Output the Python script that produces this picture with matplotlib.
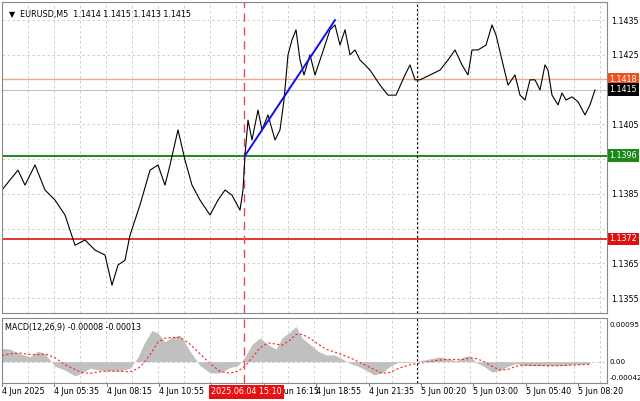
import matplotlib
matplotlib.use("Agg")
import matplotlib.pyplot as plt

# ---- data ----
bars = [0,8,16,23,33,43,53,63,73,83,93,103,110,116,123,128,138,148,156,163,168,176,183,190,198,208,216,223,230,238,241,243,246,250,256,260,266,273,278,282,286,290,294,298,302,308,313,318,323,328,333,338,343,348,353,358,363,368,378,386,394,403,408,413,418,428,438,446,453,460,466,470,476,484,490,494,500,506,513,518,523,528,533,538,543,546,550,556,560,564,570,576,583,588,593]
price = [1.13861,1.13890,1.13918,1.13875,1.13933,1.13861,1.13832,1.13789,1.13702,1.13717,1.13688,1.13674,1.13587,1.13645,1.13659,1.13731,1.13818,1.13918,1.13933,1.13875,1.13933,1.14034,1.13947,1.13875,1.13832,1.13789,1.13832,1.13861,1.13846,1.13803,1.13861,1.13962,1.14062,1.14005,1.14091,1.14034,1.14077,1.14005,1.14034,1.14120,1.14250,1.14293,1.14322,1.14235,1.14192,1.14250,1.14192,1.14235,1.14278,1.14322,1.14336,1.14278,1.14322,1.14250,1.14264,1.14235,1.14221,1.14206,1.14163,1.14134,1.14134,1.14192,1.14221,1.14178,1.14178,1.14192,1.14206,1.14235,1.14264,1.14221,1.14192,1.14264,1.14264,1.14278,1.14336,1.14307,1.14235,1.14163,1.14192,1.14134,1.14120,1.14178,1.14178,1.14149,1.14221,1.14206,1.14134,1.14106,1.14140,1.14120,1.14129,1.14115,1.14077,1.14106,1.14149]

macd_x = [0,8,18,28,36,43,53,63,73,80,88,98,108,118,128,136,143,150,156,163,170,178,188,198,208,218,228,236,243,250,258,266,274,280,288,294,300,308,316,324,332,340,348,356,364,372,380,388,396,408,418,428,438,446,454,462,468,474,482,490,498,506,514,522,530,538,546,554,562,570,578,588]
macd_hist = [34,32,20,12,27,20,-12,-22,-37,-29,-17,-22,-24,-24,-17,12,51,80,73,51,63,68,27,-10,-29,-29,-15,-10,12,44,61,44,32,61,76,90,61,44,27,17,17,7,-5,-12,-22,-34,-29,-12,-2,-2,2,7,12,7,2,12,15,-2,-12,-27,-22,-12,-5,-10,-10,-10,-10,-10,-10,-7,-7,-5]
macd_signal = [15,20,22,18,18,20,10,-8,-20,-28,-30,-26,-24,-25,-26,-18,0,25,50,60,62,62,45,20,-5,-25,-30,-24,-12,10,35,48,45,42,55,70,70,60,45,32,25,18,10,0,-10,-20,-30,-28,-18,-8,-4,0,4,6,5,6,10,8,0,-12,-22,-20,-12,-9,-10,-10,-11,-11,-10,-9,-8,-7]

yticks = [1.1355,1.1365,1.1375,1.1385,1.1395,1.1405,1.1415,1.1425,1.1435]
xtick_pos = [2,54,107,159,264,316,369,421,473,526,578]
xtick_lab = ["4 Jun 2025","4 Jun 05:35","4 Jun 08:15","4 Jun 10:55","4 Jun 16:15",
             "4 Jun 18:55","4 Jun 21:35","5 Jun 00:20","5 Jun 03:00","5 Jun 05:40","5 Jun 08:20"]
level_orange, level_last, level_green, level_red = 1.1418, 1.1415, 1.1396, 1.1372
vline_red, vline_black = 242, 415
trend_x = [243, 333]
trend_y = [1.1396, 1.14350]

W, H = 640, 401
fig = plt.figure(figsize=(6.4, 4.01), dpi=100)
fs = 5.8
def rect(l, t, r, b):
    return [l/W, 1-b/H, (r-l)/W, (b-t)/H]

ax = fig.add_axes(rect(2, 2, 607, 313))
mx = fig.add_axes(rect(2, 318, 607, 383))
XMAX = 605
ylo, yhi = 1.13507, 1.14402

for a in (ax, mx):
    a.set_xlim(0, XMAX)
    for s in a.spines.values():
        s.set_color("#888888"); s.set_linewidth(0.8)
    a.tick_params(length=0, labelsize=fs, pad=3)
    a.set_xticks([])
    a.yaxis.tick_right()
    for gx in range(26, XMAX, 26):
        a.axvline(gx, color="#c8c8c8", lw=0.6, ls=(0, (3, 3)), zorder=0)
mx.tick_params(labelsize=5.2, pad=2)

ax.set_ylim(ylo, yhi)
for yv in yticks:
    ax.axhline(yv, color="#c8c8c8", lw=0.6, ls=(0, (3, 3)), zorder=0)
shown = [t for t in yticks if t not in (1.1415, 1.1395, 1.1375)]
ax.set_yticks(shown)
ax.set_yticklabels([f"{t:.4f}" for t in shown])

ax.axhline(level_last, color="#c0c0c0", lw=0.8)
ax.axhline(level_orange, color="#f4a58a", lw=1.0)
ax.axhline(level_green, color="#1a8a1a", lw=1.4)
ax.axhline(level_red, color="#e01010", lw=1.2)
ax.axvline(vline_red, color="#e05050", lw=1.0, ls=(0, (6, 4)))
ax.axvline(vline_black, color="black", lw=0.8, ls=(0, (2, 2)))
ax.plot(bars, price, color="black", lw=0.8)
ax.plot(trend_x, trend_y, color="#1010ee", lw=1.4)

for val, bg in [(level_orange, "#f05020"), (level_last, "black"), (level_green, "#1a8a1a"), (level_red, "#e01010")]:
    ax.text(1.004, val, f"{val:.4f}", transform=ax.get_yaxis_transform(), fontsize=fs, color="white",
            va="center", ha="left", bbox=dict(boxstyle="square,pad=0.2", fc=bg, ec="none"), clip_on=False)

ax.text(0.012, 0.975, "▼  EURUSD,M5  1.1414 1.1415 1.1413 1.1415", transform=ax.transAxes,
        fontsize=fs, va="top", ha="left")

# MACD
mx.set_ylim(-0.00055, 0.00112)
mx.fill_between(macd_x, [v*1e-5 for v in macd_hist], 0, color="#c0c0c0", lw=0)
mx.plot(macd_x, [v*1e-5 for v in macd_signal], color="#ff2020", lw=0.8, ls=(0, (2, 2)))
mx.axhline(0, color="#c8c8c8", lw=0.6, ls=(0, (3, 3)))
mx.axvline(vline_red, color="#e05050", lw=1.0, ls=(0, (6, 4)))
mx.axvline(vline_black, color="black", lw=0.8, ls=(0, (2, 2)))
mx.set_yticks([0.00095, 0.0, -0.00042])
mx.set_yticklabels(["0.00095", "0.00", "-0.00042"])
mx.text(0.005, 0.93, "MACD(12,26,9) -0.00008 -0.00013", transform=mx.transAxes, fontsize=fs, va="top")

for p, lab in zip(xtick_pos, xtick_lab):
    fig.text((p + (10 if lab.endswith("16:15") else 0))/W, 1-392/H, lab, fontsize=fs, va="center", ha="left")
for p in xtick_pos + [211]:
    mx.plot([p-2, p-2], [-0.00055, -0.00062], color="#888888", lw=0.8, clip_on=False)
fig.text(211/W, 1-392/H, "2025.06.04 15:10", fontsize=fs, va="center", ha="left", color="white",
         bbox=dict(boxstyle="square,pad=0.25", fc="#e81010", ec="none"), zorder=10)

fig.savefig("out.png", dpi=100, facecolor="white")
